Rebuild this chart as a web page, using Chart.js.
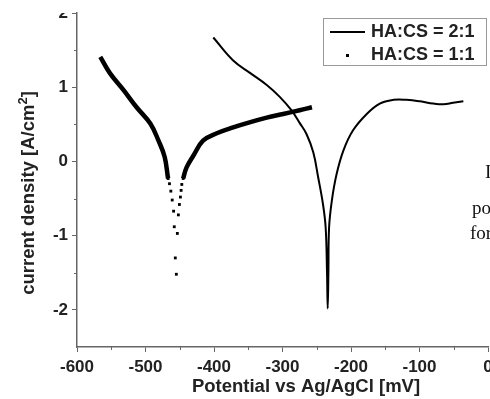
<!DOCTYPE html>
<html>
<head>
<meta charset="utf-8">
<script src="https://cdn.jsdelivr.net/npm/chart.js@4"></script>
<style>
  body { margin: 0; background: #fff; }
  #wrap { position: relative; width: 490px; height: 399px; overflow: hidden; }
  .stray { position: absolute; font-family: 'Liberation Serif', serif; font-size: 19px; color: #111; line-height: 20px; }
</style>
</head>
<body>
<div id="wrap">
  <canvas id="myChart" width="490" height="399"></canvas>
  <div class="stray" style="left:485px;top:162px">I</div>
  <div class="stray" style="left:472px;top:198px">po</div>
  <div class="stray" style="left:470px;top:223px">for</div>
</div>
<script>
// HA:CS = 2:1 (solid line)
const ha21Potential = [-401, -372, -347, -323, -304, -287, -275, -265, -255, -248, -241, -237, -235, -234, -233, -232, -228, -221, -211, -197, -177, -158, -138, -119, -99, -80, -65, -51, -36]
const ha21Current = [1.67, 1.36, 1.19, 1.03, 0.87, 0.69, 0.52, 0.37, 0.12, -0.21, -0.57, -0.89, -1.5, -1.98, -1.5, -0.89, -0.53, -0.17, 0.15, 0.42, 0.64, 0.78, 0.83, 0.83, 0.81, 0.78, 0.77, 0.79, 0.81]

// HA:CS = 1:1 (dots)
const ha11Potential = [-566, -552, -532, -513, -493, -481, -472, -467, -465, -463, -461, -459, -458, -456.5, -455, -453.5, -452, -450.5, -449, -448, -447, -445, -440, -430, -416, -396, -372, -347, -323, -299, -275, -257]
const ha11Current = [1.41, 1.19, 0.96, 0.73, 0.51, 0.28, 0.06, -0.23, -0.30, -0.40, -0.52, -0.67, -0.88, -1.30, -1.52, -0.97, -0.72, -0.58, -0.48, -0.39, -0.31, -0.23, -0.08, 0.08, 0.28, 0.38, 0.46, 0.53, 0.59, 0.64, 0.69, 0.73]

const xTicks = [-600, -500, -400, -300, -200, -100, 0]
const yTicks = [2, 1, 0, -1, -2]

const FONT = "'Liberation Sans', Arial, sans-serif"
const SPARSE_BELOW = -0.2 // the 1:1 dots are seen one by one under this
const AXIS_GREY = '#666'

const toPoints = (xs, ys) => xs.map((x, i) => ({ x: x, y: ys[i] }))

const frameAndLegend = {
  id: 'frameAndLegend',
  afterDraw(chart) {
    const ctx = chart.ctx
    const sx = chart.scales.x, sy = chart.scales.y
    ctx.save()
    // short minor ticks
    ctx.strokeStyle = AXIS_GREY
    ctx.lineWidth = 1
    ctx.beginPath()
    sx.ticks.forEach(t => {
      if (xTicks.includes(t.value)) return
      const px = Math.round(sx.getPixelForValue(t.value)) + 0.5
      ctx.moveTo(px, sy.bottom)
      ctx.lineTo(px, sy.bottom + 3)
    })
    sy.ticks.forEach(t => {
      if (yTicks.includes(t.value) || t.value === sy.min) return
      const py = Math.round(sy.getPixelForValue(t.value)) + 0.5
      ctx.moveTo(sx.left, py)
      ctx.lineTo(sx.left - 3, py)
    })
    ctx.stroke()

    // top of the picture is cut off
    ctx.fillStyle = '#fff'
    ctx.fillRect(40, 0, 34, 13)

    ctx.fillStyle = '#222'
    ctx.font = 'bold 18.5px ' + FONT
    ctx.textAlign = 'center'
    ctx.textBaseline = 'middle'
    ctx.fillText('Potential vs Ag/AgCl [mV]', 306, 387)

    // y title with a raised 2
    ctx.translate(29, 193)
    ctx.rotate(-Math.PI / 2)
    const a = 'current density [A/cm', b = '2', c = ']'
    ctx.font = 'bold 18.5px ' + FONT
    const wa = ctx.measureText(a).width, wc = ctx.measureText(c).width
    ctx.font = 'bold 13px ' + FONT
    const wb = ctx.measureText(b).width
    let x0 = -(wa + wb + wc) / 2
    ctx.textAlign = 'left'
    ctx.font = 'bold 18.5px ' + FONT
    ctx.fillText(a, x0, 0)
    ctx.font = 'bold 13px ' + FONT
    ctx.fillText(b, x0 + wa, -6)
    ctx.font = 'bold 18.5px ' + FONT
    ctx.fillText(c, x0 + wa + wb, 0)
    ctx.restore()

    // legend box
    ctx.save()
    ctx.strokeStyle = '#999'
    ctx.lineWidth = 1
    ctx.strokeRect(323.5, 18.5, 163, 47)
    const ds = chart.data.datasets
    ctx.strokeStyle = '#000'
    ctx.lineWidth = 2
    ctx.beginPath()
    ctx.moveTo(330, 32)
    ctx.lineTo(365, 32)
    ctx.stroke()
    ctx.fillStyle = '#000'
    ctx.fillRect(346, 54, 3, 3)
    ctx.fillStyle = '#222'
    ctx.font = 'bold 18px ' + FONT
    ctx.textAlign = 'left'
    ctx.textBaseline = 'middle'
    ctx.fillText(ds[0].label, 371, 32)
    ctx.fillText(ds[1].label, 371, 55)
    ctx.restore()
  }
}

const myChart = new Chart(document.querySelector('#myChart').getContext('2d'), {
  type: 'scatter',
  data: {
    datasets: [{
      label: 'HA:CS = 2:1',
      data: toPoints(ha21Potential, ha21Current),
      showLine: true,
      borderColor: '#000',
      borderWidth: 2,
      pointRadius: 0,
      tension: 0.4
    }, {
      label: 'HA:CS = 1:1',
      data: toPoints(ha11Potential, ha11Current),
      showLine: true,
      borderColor: '#000',
      backgroundColor: '#000',
      borderWidth: 4.5,
      tension: 0.4,
      pointStyle: 'rect',
      pointBorderWidth: 0,
      pointRadius: c => (c.raw && c.raw.y < SPARSE_BELOW) ? 2 : 0,
      segment: {
        borderColor: c => (c.p0.parsed.y < SPARSE_BELOW && c.p1.parsed.y < SPARSE_BELOW) ? 'transparent' : '#000'
      }
    }]
  },
  options: {
    responsive: false,
    animation: false,
    devicePixelRatio: 1,
    layout: { padding: { top: 13, right: 2, left: 0, bottom: 0 } },
    plugins: { legend: { display: false }, tooltip: { enabled: false } },
    scales: {
      x: {
        type: 'linear',
        min: -600,
        max: 0,
        border: { color: AXIS_GREY, width: 1.5 },
        grid: {
          drawOnChartArea: false,
          tickLength: 5,
          tickColor: c => xTicks.includes(c.tick.value) ? AXIS_GREY : 'transparent'
        },
        ticks: {
          stepSize: 50,
          padding: 5,
          maxRotation: 0,
          autoSkip: false,
          color: '#222',
          font: { family: FONT, size: 17, weight: 'bold' },
          callback: v => xTicks.includes(v) ? String(v) : ''
        },
        afterFit: s => { s.height = 52; s.paddingLeft = 0; s.paddingRight = 0 }
      },
      y: {
        min: -2.5,
        max: 2,
        border: { color: AXIS_GREY, width: 1.5 },
        grid: {
          drawOnChartArea: false,
          tickLength: 5,
          tickColor: c => yTicks.includes(c.tick.value) ? AXIS_GREY : 'transparent'
        },
        ticks: {
          stepSize: 0.5,
          padding: 4,
          autoSkip: false,
          color: '#222',
          font: { family: FONT, size: 17, weight: 'bold' },
          callback: v => yTicks.includes(v) ? String(v) : ''
        },
        afterFit: s => { s.width = 77; s.paddingTop = 0; s.paddingBottom = 0 }
      }
    }
  },
  plugins: [frameAndLegend]
})
</script>
</body>
</html>
